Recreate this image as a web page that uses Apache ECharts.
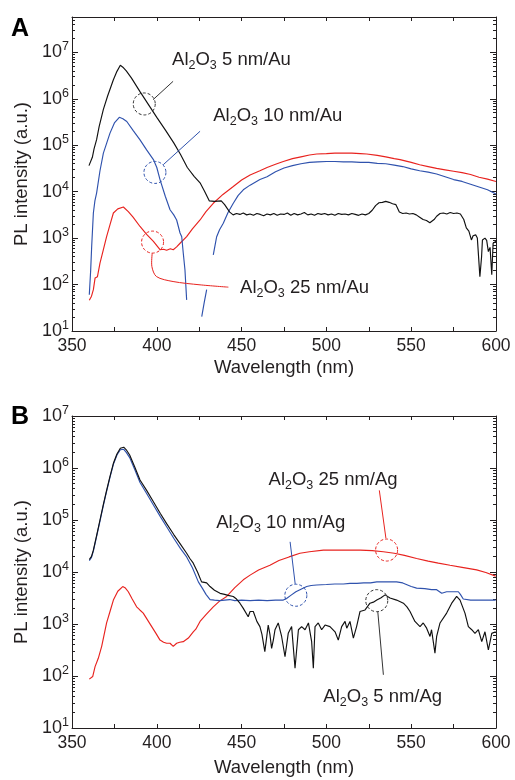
<!DOCTYPE html>
<html><head><meta charset="utf-8">
<script src="https://cdn.jsdelivr.net/npm/echarts@6/dist/echarts.min.js"></script>
<style>html,body{margin:0;padding:0;background:#fff}#c{width:515px;height:780px}</style>
</head><body><div id="c"></div>
<script>
// x: wavelength (nm); y: log10 of PL intensity (a.u.)
const xLabels = [350, 400, 450, 500, 550, 600];
const xTickVals = [350, 375, 400, 425, 450, 475, 500, 525, 550, 575, 600];
const yDecades = [1, 2, 3, 4, 5, 6, 7];

// Panel A (Au)
const au5 = [[360,4.56],[361,4.58],[362,4.74],[363,4.92],[364.5,5.12],[366,5.40],[368.5,5.77],[371,6.06],[374.4,6.41],[376.5,6.59],[378.5,6.72],[380,6.68],[382,6.60],[385,6.45],[390,6.16],[395,5.88],[400,5.60],[405,5.33],[410,5.05],[414,4.80],[418,4.52],[422,4.33],[425.5,4.19],[428,4.02],[431,3.80],[434,3.79],[438,3.80],[440,3.72],[443,3.56],[445,3.50],[447,3.53],[449,3.51],[451,3.54],[453,3.50],[455,3.52],[457,3.49],[459,3.53],[461,3.51],[463,3.48],[465,3.52],[467,3.50],[469,3.53],[471,3.49],[473,3.52],[475,3.51],[477,3.54],[479,3.49],[481,3.53],[483,3.50],[485,3.52],[487,3.55],[489,3.50],[491,3.52],[493,3.49],[495,3.53],[497,3.51],[499,3.53],[501,3.50],[503,3.52],[505,3.49],[507,3.53],[509,3.51],[511,3.52],[513,3.50],[515,3.53],[517,3.51],[519,3.49],[521,3.52],[523,3.50],[525,3.53],[527,3.60],[529,3.70],[531,3.76],[533,3.77],[535,3.79],[537,3.77],[539,3.74],[541,3.72],[543,3.56],[545,3.53],[547,3.54],[549,3.52],[551,3.53],[553,3.50],[555,3.45],[557,3.40],[559,3.38],[561,3.33],[562,3.31],[563.5,3.40],[565,3.47],[567,3.53],[569,3.54],[571,3.52],[573,3.55],[575,3.53],[577,3.54],[579,3.52],[580,3.54],[581,3.40],[582.5,3.22],[584,3.15],[585.5,2.96],[586.5,3.05],[588,3.07],[589,3.00],[590.5,2.17],[591.5,2.60],[592,2.96],[593.5,3.00],[594.5,2.95],[595.5,2.71],[596.5,2.80],[597.5,2.21],[598.3,2.89],[600,2.93]];
const au10 = [[360.2,1.78],[361,2.30],[361.6,2.82],[362.6,3.54],[363.5,3.80],[364.5,3.97],[366.5,4.45],[368.5,4.83],[370.5,5.05],[372.4,5.26],[375,5.48],[377.9,5.60],[380,5.57],[382.3,5.51],[386,5.32],[390,5.12],[394,4.90],[398,4.69],[400,4.52],[401.9,4.26],[405,3.90],[407.8,3.61],[410,3.50],[411.7,3.39],[413.7,3.11],[414.7,3.03],[415.6,2.68],[416.6,2.32],[417.6,1.67],[422,null],[426.5,1.31],[428,1.62],[429.4,1.89],[431,null],[433.3,2.64],[435.3,3.03],[437,3.18],[439.2,3.32],[442,3.55],[445.1,3.75],[448,3.92],[451,4.04],[455,4.14],[460.8,4.26],[465,4.32],[470,4.43],[475,4.51],[480,4.56],[485,4.60],[490,4.63],[495,4.64],[500,4.65],[505,4.65],[510,4.64],[515,4.64],[520,4.63],[525,4.63],[530,4.61],[535,4.60],[540,4.57],[545,4.54],[550,4.49],[555,4.45],[560,4.42],[565,4.38],[570,4.32],[575,4.26],[580,4.22],[585,4.16],[590,4.10],[595,4.04],[600,3.95]];
const au25 = [[360.2,1.66],[361.5,1.75],[362.6,1.89],[363.6,2.14],[365,2.17],[366.5,2.46],[368.5,2.75],[370.4,3.03],[372.5,3.30],[374.4,3.54],[377,3.63],[380.3,3.67],[383.2,3.57],[386,3.45],[390.1,3.25],[394,3.08],[398,2.93],[401.9,2.75],[404,2.76],[405.8,2.74],[408,2.77],[409.7,2.75],[411.7,2.81],[414,2.90],[417.6,3.03],[421,3.20],[425.5,3.39],[429,3.57],[433.3,3.75],[439,3.94],[445.1,4.11],[450,4.25],[455,4.36],[460.8,4.45],[465,4.52],[470,4.59],[474.6,4.65],[480,4.71],[485,4.75],[490,4.79],[494.3,4.81],[500,4.82],[505,4.83],[510,4.83],[515,4.83],[520,4.82],[523.8,4.81],[530,4.78],[535,4.75],[540,4.71],[543.4,4.69],[550,4.63],[555,4.58],[560,4.54],[565,4.50],[570,4.47],[575,4.44],[580,4.41],[585,4.37],[590,4.31],[595,4.27],[600,4.22]];

// Panel B (Ag)
const ag5 = [[360.2,4.24],[361.5,4.30],[362.6,4.42],[364.5,4.70],[366.5,5.00],[368.5,5.30],[370.4,5.57],[372.4,5.84],[374.4,6.09],[376.5,6.27],[378.5,6.38],[379.3,6.41],[380.5,6.40],[382,6.35],[384,6.25],[387,6.02],[390.1,5.77],[394,5.57],[398,5.35],[402,5.13],[405.8,4.93],[410,4.72],[414,4.53],[417.6,4.36],[419.5,4.26],[421.5,4.17],[424,4.00],[426.4,3.81],[428,3.80],[429.4,3.79],[431.4,3.72],[434,3.65],[437.3,3.59],[440,3.57],[442,3.55],[445.1,3.53],[447,3.48],[449,3.40],[451,3.30],[453.9,3.14],[455,3.24],[456.9,3.24],[457.9,3.21],[459,3.05],[460.8,2.95],[462,2.80],[463.7,2.47],[465.7,2.98],[466.7,2.80],[467.7,2.53],[468.7,2.69],[469.7,2.89],[471.6,3.02],[473.6,2.76],[475.6,2.37],[477.5,2.82],[479.5,2.95],[481.5,2.15],[483.5,2.89],[485.4,2.95],[487.4,2.89],[489.4,3.02],[491.3,2.66],[492.3,2.15],[493.3,2.95],[495.2,3.02],[497.2,2.89],[499.2,2.98],[502.1,2.95],[505.1,2.85],[507,2.69],[509,2.95],[511,3.05],[512,2.92],[513.9,3.05],[515.9,2.73],[517.8,2.95],[519.8,3.24],[522.8,3.27],[525.7,3.40],[527.7,3.42],[529.7,3.46],[532,3.50],[534.6,3.56],[537.5,3.50],[541.4,3.46],[545.4,3.40],[547.5,3.33],[549.3,3.24],[552.2,3.05],[555.2,2.95],[557.1,3.02],[559.1,2.92],[561.1,2.76],[562,2.89],[564,2.44],[565,2.76],[567,3.02],[570.9,3.21],[573.9,3.40],[576.8,3.53],[578.8,3.46],[581.7,3.21],[583.7,2.95],[585.7,2.89],[587.6,2.82],[589.6,2.89],[591.6,2.66],[593.5,2.85],[595.5,2.50],[597.5,2.82],[599.8,2.85]];
const ag10 = [[360.2,4.22],[361.5,4.28],[362.6,4.40],[364.5,4.68],[366.5,4.98],[368.5,5.28],[370.4,5.55],[372.4,5.82],[374.4,6.07],[376.5,6.25],[378.5,6.35],[379.3,6.37],[380.5,6.36],[382,6.30],[384,6.20],[387,5.97],[390.1,5.72],[394,5.51],[398,5.29],[402,5.07],[405.8,4.87],[410,4.65],[414,4.45],[417.6,4.29],[421,4.08],[424.5,3.81],[427,3.68],[429,3.57],[431.4,3.47],[434,3.46],[437,3.45],[440,3.46],[443,3.47],[446,3.45],[450,3.46],[455,3.45],[460,3.46],[465,3.45],[470,3.46],[474.6,3.46],[476.5,3.49],[479,3.55],[482,3.62],[485,3.67],[488.4,3.72],[491,3.74],[494.3,3.75],[500,3.76],[505,3.77],[510,3.77],[513.9,3.78],[518,3.78],[522,3.79],[526,3.79],[529.7,3.81],[535,3.81],[541.4,3.81],[545,3.79],[550,3.72],[553.2,3.69],[558,3.68],[562,3.66],[565,3.66],[568,3.59],[570.9,3.62],[574,3.62],[577.8,3.62],[579,3.57],[580.7,3.48],[585,3.46],[590,3.46],[595,3.46],[599.8,3.46]];
const ag25 = [[360.2,1.94],[362.2,1.99],[363.6,2.18],[365.5,2.34],[367.5,2.57],[370.4,3.02],[372.5,3.25],[374.4,3.46],[377,3.63],[379.9,3.72],[381.5,3.69],[383.2,3.62],[385.5,3.48],[388.1,3.33],[390,3.27],[392,3.21],[394.5,3.08],[397,2.95],[399.5,2.82],[401.9,2.69],[404,2.65],[405.8,2.63],[407.8,2.63],[409.7,2.57],[411.7,2.63],[413.5,2.65],[415.6,2.66],[418.6,2.73],[421.5,2.85],[423,2.90],[425.5,3.05],[429,3.18],[433.3,3.33],[437,3.44],[441.2,3.53],[446,3.70],[451,3.85],[455,3.94],[460,4.04],[466.7,4.13],[472,4.22],[478,4.29],[484.4,4.36],[490,4.39],[498.2,4.42],[505,4.42],[513.9,4.42],[520,4.42],[527,4.41],[533.6,4.39],[540,4.36],[546,4.32],[553.2,4.26],[560,4.21],[566,4.17],[572.9,4.13],[580,4.09],[588.6,4.04],[594,3.99],[599.8,3.92]];

const FONT = '"Liberation Sans", Arial, Helvetica, sans-serif';
const AX = '#231f20';
const C_BLACK = '#111111', C_BLUE = '#2f52ad', C_RED = '#e8231f';

function minorVals(max) {
  const v = [];
  for (let n = 1; n < 8; n++) for (let k = 2; k <= 9; k++) {
    const t = n + Math.log10(k);
    if (t < max) v.push(t);
  }
  return v;
}

const grids = [
  {left: 72, top: 17, width: 424, height: 314, yMax: 7.76, nameGap: 27},
  {left: 72, top: 416, width: 424, height: 312, yMax: 7, nameGap: 30}
];

const xAxis = [], yAxis = [];
grids.forEach((g, gi) => {
  const line = {show: true, lineStyle: {color: AX, width: 1}};
  xAxis.push({type: 'value', gridIndex: gi, min: 350, max: 600, position: 'bottom',
    axisLine: line,
    axisTick: {show: true, inside: true, length: 4, customValues: xTickVals, lineStyle: {color: AX}},
    axisLabel: {customValues: xLabels, color: AX, fontFamily: FONT, fontSize: 17.5, margin: 6},
    splitLine: {show: false},
    name: 'Wavelength (nm)', nameLocation: 'middle', nameGap: g.nameGap,
    nameTextStyle: {color: AX, fontFamily: FONT, fontSize: 18.5}});
  xAxis.push({type: 'value', gridIndex: gi, min: 350, max: 600, position: 'top',
    axisLine: line,
    axisTick: {show: true, inside: true, length: 4, customValues: xTickVals, lineStyle: {color: AX}},
    axisLabel: {show: false}, splitLine: {show: false}});
  const mk = (pos, major, labels) => ({type: 'value', gridIndex: gi, min: 1, max: g.yMax, position: pos,
    axisLine: {show: major, lineStyle: {color: AX, width: 1}},
    axisTick: {show: true, inside: true, length: major ? 6 : 3,
      customValues: major ? yDecades : minorVals(g.yMax), lineStyle: {color: AX}},
    axisLabel: labels ? {customValues: yDecades, margin: 3, color: AX, fontFamily: FONT,
      formatter: v => '{b|10}{sup|' + v + '}',
      rich: {b: {fontSize: 18, lineHeight: 24, fontFamily: FONT, color: AX},
             sup: {fontSize: 12.5, lineHeight: 10, verticalAlign: 'top', fontFamily: FONT, color: AX}}} : {show: false},
    splitLine: {show: false},
    name: labels ? 'PL intensity (a.u.)' : '', nameLocation: 'middle', nameGap: 41,
    nameTextStyle: {color: AX, fontFamily: FONT, fontSize: 18.5}});
  yAxis.push(mk('left', true, true));
  yAxis.push(mk('left', false, false));
  yAxis.push(mk('right', true, false));
  yAxis.push(mk('right', false, false));
});

const mkSeries = (data, color, gi) => ({
  type: 'line', xAxisIndex: gi * 2, yAxisIndex: gi * 4,
  data: data.map(p => [p[0], p[1] === null ? '-' : p[1]]),
  showSymbol: false, symbol: 'none', connectNulls: false,
  lineStyle: {color: color, width: 1.15}, itemStyle: {color: color},
  animation: false, silent: true, z: 3
});

const chart = echarts.init(document.getElementById('c'), null, {renderer: 'canvas'});
chart.setOption({
  animation: false,
  backgroundColor: '#fff',
  grid: grids.map(g => ({left: g.left, top: g.top, width: g.width, height: g.height, containLabel: false})),
  xAxis, yAxis,
  series: [
    mkSeries(au25, C_RED, 0), mkSeries(au10, C_BLUE, 0), mkSeries(au5, C_BLACK, 0),
    mkSeries(ag25, C_RED, 1), mkSeries(ag10, C_BLUE, 1), mkSeries(ag5, C_BLACK, 1)
  ]
});

// Annotations in data coordinates (wavelength, log10 intensity)
const annotations = [
  {g: 0, color: '#333', circle: [392.6, 5.888], leader: [[397.8, 5.98], [409.6, 6.375]], text: [409.0, 6.84], label: 'Al{s|2}O{s|3} 5 nm/Au'},
  {g: 0, color: C_BLUE, circle: [398.9, 4.414], leader: [[403.8, 4.58], [425.5, 5.30]], text: [433.3, 5.636], label: 'Al{s|2}O{s|3} 10 nm/Au'},
  {g: 0, color: C_RED, circle: [397.5, 2.914], leader: [[397.3, 2.677], [397.1, 2.388], [399.8, 2.172], [409.6, 2.065], [425.5, 1.994], [442.2, 1.944]], text: [449.1, 1.929], label: 'Al{s|2}O{s|3} 25 nm/Au', smooth: 0.3},
  {g: 1, color: C_RED, circle: [535.5, 4.422], leader: [[531.2, 5.57], [535.1, 4.647]], text: [465.9, 5.766], label: 'Al{s|2}O{s|3} 25 nm/Ag'},
  {g: 1, color: C_BLUE, circle: [482.0, 3.553], leader: [[478.6, 4.58], [481.6, 3.77]], text: [435.0, 4.94], label: 'Al{s|2}O{s|3} 10 nm/Ag'},
  {g: 1, color: '#333', circle: [529.7, 3.449], leader: [[530.3, 3.238], [533.6, 2.023]], text: [498.2, 1.595], label: 'Al{s|2}O{s|3} 5 nm/Ag'}
];

const px = (g, p) => chart.convertToPixel({xAxisIndex: g * 2, yAxisIndex: g * 4}, p);
const graphic = [];
annotations.forEach(a => {
  const c = px(a.g, a.circle);
  graphic.push({type: 'circle', z: 100, shape: {cx: c[0], cy: c[1], r: 11},
    style: {fill: 'none', stroke: a.color, lineWidth: 1, lineDash: [3, 2]}});
  graphic.push({type: 'polyline', z: 100, shape: {points: a.leader.map(p => px(a.g, p)), smooth: a.smooth || 0},
    style: {fill: 'none', stroke: a.color, lineWidth: 1}});
  const t = px(a.g, a.text);
  graphic.push({type: 'text', z: 100, x: t[0], y: t[1],
    style: {text: a.label, fill: AX, fontFamily: FONT, fontSize: 18.5, lineHeight: 24,
      align: 'left', verticalAlign: 'middle',
      rich: {s: {fontSize: 12.5, lineHeight: 12, verticalAlign: 'bottom', fontFamily: FONT, fill: AX}}}});
});
graphic.push({type: 'text', z: 100, x: 11, y: 29, style: {text: 'A', fill: '#000', font: 'bold 25px ' + FONT, verticalAlign: 'middle'}});
graphic.push({type: 'text', z: 100, x: 11, y: 417, style: {text: 'B', fill: '#000', font: 'bold 25px ' + FONT, verticalAlign: 'middle'}});
chart.setOption({graphic: graphic});
</script>
</body></html>
